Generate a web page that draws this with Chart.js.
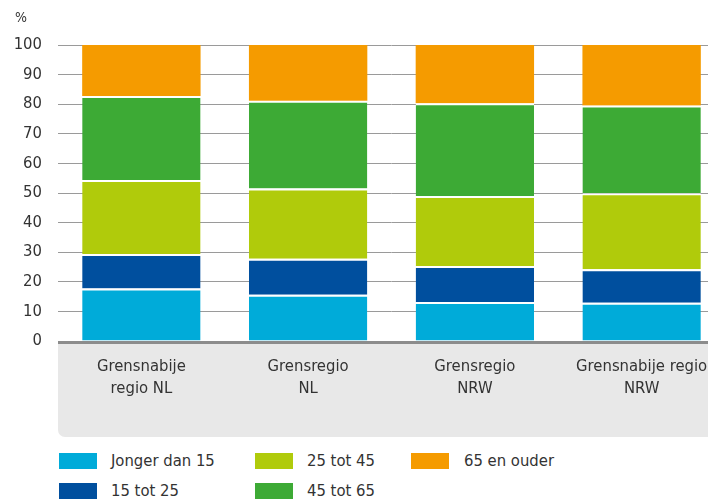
<!DOCTYPE html>
<html>
<head>
<meta charset="utf-8">
<script src="https://cdn.jsdelivr.net/npm/chart.js@4"></script>
<style>
  html, body { margin: 0; padding: 0; background: #fff; overflow: hidden; }
  #wrap { position: relative; width: 708px; height: 501px; overflow: hidden; }
  #c { position: absolute; left: 0; top: 0; }
  .lg-box { position: absolute; width: 38px; height: 16px; }
  .lg-txt { position: absolute; font-family: "DejaVu Sans Condensed", "DejaVu Sans", sans-serif; font-size: 16.5px; color: #333; line-height: 20px; white-space: nowrap; }
</style>
</head>
<body>
<div id="wrap">
  <canvas id="c" width="725" height="440"></canvas>
</div>
<script>
const categories = [["Grensnabije", "regio NL"], ["Grensregio", "NL"], ["Grensregio", "NRW"], ["Grensnabije regio", "NRW"]];
const seriesNames = ["Jonger dan 15", "15 tot 25", "25 tot 45", "45 tot 65", "65 en ouder"];
const seriesColors = ["#00abd9", "#004f9e", "#b0cb0b", "#3daa35", "#f59b00"];
const jongerDan15 = [17.7, 15.6, 13.2, 12.9];
const van15tot25 = [11.7, 12.2, 12.1, 11.3];
const van25tot45 = [25.0, 23.7, 23.7, 25.7];
const van45tot65 = [28.4, 29.7, 31.3, 29.7];
const van65enOuder = [17.2, 18.8, 19.7, 20.4];
const yTicks = [0, 10, 20, 30, 40, 50, 60, 70, 80, 90, 100];
const yUnit = "%";

const seriesValues = [jongerDan15, van15tot25, van25tot45, van45tot65, van65enOuder];
const FONT = '"DejaVu Sans Condensed", "DejaVu Sans", sans-serif';

const decor = {
  id: 'decor',
  beforeDraw(chart) {
    const { ctx, chartArea } = chart;
    ctx.save();
    ctx.fillStyle = '#e8e8e8';
    ctx.beginPath();
    ctx.roundRect(chartArea.left, chartArea.bottom, chart.width - chartArea.left, 437 - chartArea.bottom, [0, 0, 0, 7]);
    ctx.fill();
    ctx.fillStyle = '#333';
    ctx.font = '14px ' + FONT;
    ctx.textAlign = 'left';
    ctx.textBaseline = 'middle';
    ctx.fillText(yUnit, 15, 18);
    ctx.restore();
  },
  afterDatasetsDraw(chart) {
    const { ctx, chartArea } = chart;
    ctx.save();
    ctx.fillStyle = '#8c8c8c';
    ctx.fillRect(chartArea.left, chartArea.bottom, chart.width - chartArea.left, 3);
    ctx.restore();
  }
};

new Chart(document.getElementById('c'), {
  type: 'bar',
  data: {
    labels: categories,
    datasets: seriesNames.map((name, i) => ({
      label: name,
      data: seriesValues[i],
      backgroundColor: seriesColors[i],
      borderColor: '#ffffff',
      borderWidth: i < seriesNames.length - 1 ? { top: 2, left: 0, right: 0, bottom: 0 } : 0,
      borderSkipped: 'start',
      barPercentage: 0.71,
      categoryPercentage: 1
    }))
  },
  options: {
    responsive: false,
    animation: false,
    layout: { padding: { top: 45, left: 0, right: 0, bottom: 0 } },
    plugins: { legend: { display: false }, tooltip: { enabled: false } },
    scales: {
      x: {
        stacked: true,
        grid: { display: false, drawTicks: false },
        border: { display: false },
        ticks: { color: '#333', font: { family: FONT, size: 16.5, lineHeight: 1.33 }, padding: 15, maxRotation: 0, autoSkip: false },
        afterFit(scale) { scale.height = 99; }
      },
      y: {
        stacked: true,
        min: 0, max: 100,
        afterBuildTicks(scale) { scale.ticks = yTicks.map(v => ({ value: v })); },
        grid: { color: '#9a9a9a', lineWidth: 1, drawTicks: false },
        border: { display: false },
        ticks: { color: '#333', font: { family: FONT, size: 16.5 }, padding: 16 },
        afterFit(scale) { scale.width = 58; }
      }
    }
  },
  plugins: [decor]
});

// HTML legend, column-major (2 rows)
const wrap = document.getElementById('wrap');
const colBoxX = [59, 255, 411];
const colTxtX = [111, 307, 464];
const rowTop = [453, 483];
seriesNames.forEach((name, i) => {
  const col = Math.floor(i / 2), row = i % 2;
  const b = document.createElement('div');
  b.className = 'lg-box';
  b.style.left = colBoxX[col] + 'px';
  b.style.top = rowTop[row] + 'px';
  b.style.background = seriesColors[i];
  wrap.appendChild(b);
  const t = document.createElement('div');
  t.className = 'lg-txt';
  t.style.left = colTxtX[col] + 'px';
  t.style.top = (rowTop[row] - 2) + 'px';
  t.textContent = name;
  wrap.appendChild(t);
});
</script>
</body>
</html>
